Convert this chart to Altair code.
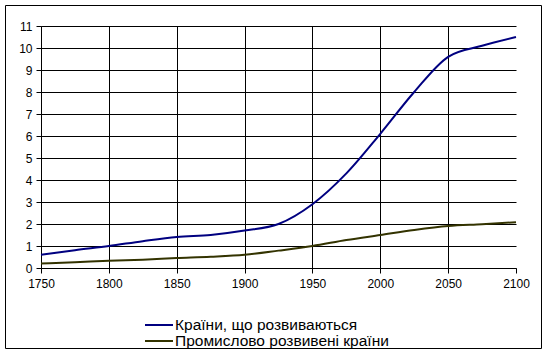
import altair as alt
import pandas as pd

years = [1750, 1775, 1800, 1825, 1850, 1875, 1900, 1925, 1950, 1975, 2000, 2025, 2050, 2075, 2100]
developing = [0.6, 0.81, 1.0, 1.22, 1.41, 1.5, 1.7, 2.0, 2.9, 4.3, 6.1, 8.0, 9.6, 10.1, 10.5]
industrial = [0.2, 0.26, 0.33, 0.38, 0.45, 0.51, 0.6, 0.79, 1.0, 1.27, 1.5, 1.73, 1.91, 1.99, 2.08]
series = ["Країни, що розвиваються", "Промислово розвивені країни"]
colors = ["#000080", "#333300"]
x_ticks = [1750, 1800, 1850, 1900, 1950, 2000, 2050, 2100]
y_ticks = list(range(0, 12))

rows = []
for y, a, b in zip(years, developing, industrial):
    rows.append({"year": y, "value": a, "series": series[0]})
    rows.append({"year": y, "value": b, "series": series[1]})
df = pd.DataFrame(rows)

legend_df = pd.DataFrame({"series": series, "idx": list(range(len(series)))})

FONT = "Liberation Sans"
W, H = 475, 242
color_scale = alt.Scale(domain=series, range=colors)

lines = alt.Chart(df).mark_line(strokeWidth=2, interpolate="monotone").encode(
    x=alt.X("year:Q", scale=alt.Scale(domain=[1750, 2100], nice=False, zero=False),
            axis=alt.Axis(values=x_ticks, title=None, grid=True, gridColor="black",
                          gridOpacity={"condition": {"test": "datum.value == 2100", "value": 0}, "value": 1},
                          domainColor="black", tickColor="black", tickSize=5,
                          labelFont=FONT, labelFontSize=12, labelColor="black",
                          labelPadding=5, format="d", labelFlush=False)),
    y=alt.Y("value:Q", scale=alt.Scale(domain=[0, 11], nice=False),
            axis=alt.Axis(values=y_ticks, title=None, grid=True, gridColor="black",
                          domainColor="black", tickColor="black", tickSize=5,
                          labelFont=FONT, labelFontSize=12, labelColor="black",
                          labelPadding=4, labelFlush=False)),
    color=alt.Color("series:N", scale=color_scale, legend=None),
    order="year:Q",
)

leg_base = alt.Chart(legend_df).transform_calculate(py="299 + datum.idx * 16")
leg_lines = leg_base.mark_rule(strokeWidth=2).encode(
    x=alt.value(104), x2=alt.value(132),
    y=alt.Y("py:Q", scale=None),
    color=alt.Color("series:N", scale=color_scale, legend=None),
)
leg_text = leg_base.mark_text(align="left", baseline="middle", font=FONT, fontSize=15.5,
                              color="black").encode(
    x=alt.value(134),
    y=alt.Y("py:Q", scale=None),
    text="series:N",
)

frame = alt.Chart(pd.DataFrame({"a": [0]})).mark_rect(fillOpacity=0, stroke="black", strokeWidth=1).encode(
    x=alt.value(-35.5), x2=alt.value(500.5), y=alt.value(-20.5), y2=alt.value(322.5)
)

chart = alt.layer(frame, lines, leg_lines, leg_text).properties(
    width=W, height=H,
    autosize=alt.AutoSizeParams(type="none"),
    padding={"left": 41, "top": 26, "right": 31, "bottom": 86},
    background="white",
).configure_view(stroke=None)

chart.save("out.html", embed_options={"renderer": "svg", "actions": False})
